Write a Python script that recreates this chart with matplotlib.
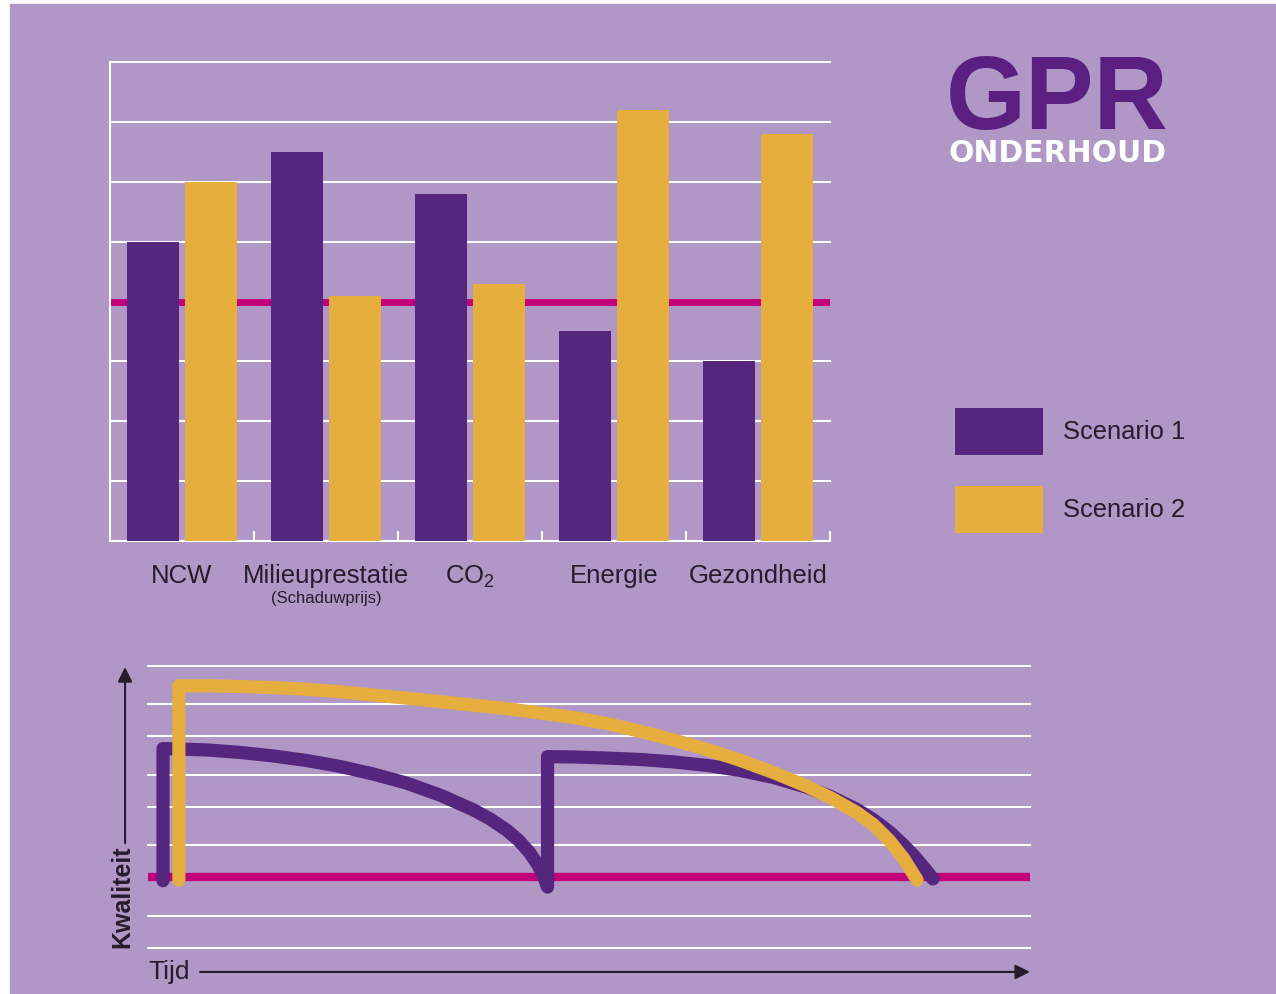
import numpy as np
import matplotlib.pyplot as plt
import matplotlib.transforms as mtransforms
from matplotlib.patches import Rectangle

plt.rcParams['font.family'] = ['Liberation Sans', 'DejaVu Sans']

# top chart data
categories = ["NCW", "Milieuprestatie", r"CO$_\mathregular{2}$", "Energie", "Gezondheid"]
scenario1 = [5.0, 6.5, 5.8, 3.5, 3.0]
scenario2 = [6.0, 4.1, 4.3, 7.2, 6.8]
top_grid = [1, 2, 3, 5, 6, 7, 8]
top_norm = 4

# bottom chart data (tijd vs kwaliteit)
s1_time = [1.7, 1.7, 6.7, 10.4, 14.2, 18.0, 21.8, 25.5, 29.3, 33.1, 36.9,
           38.8, 40.7, 42.0, 43.2, 44.2, 44.9, 45.3,
           45.3, 48.5, 52.0, 55.8, 59.6, 63.4, 67.1, 70.9, 74.7, 77.3, 80.4,
           82.2, 84.1, 85.6, 86.8, 88.1, 89.0]
s1_qual = [1.9, 5.65, 5.61, 5.54, 5.44, 5.31, 5.14, 4.93, 4.67, 4.33, 3.91,
           3.65, 3.33, 3.05, 2.72, 2.35, 2.0, 1.72,
           5.42, 5.41, 5.38, 5.34, 5.27, 5.17, 5.03, 4.83, 4.55, 4.30, 3.92,
           3.64, 3.28, 2.93, 2.62, 2.24, 1.95]
s2_time = [3.5, 3.5, 6.7, 10.4, 14.2, 18.0, 21.8, 25.5, 29.3, 33.1, 36.9,
           40.7, 44.4, 48.2, 52.0, 55.8, 59.6, 63.4, 67.1, 70.9, 74.7, 77.5,
           80.4, 82.3, 84.1, 85.7, 87.2]
s2_qual = [1.92, 7.43, 7.43, 7.41, 7.38, 7.33, 7.26, 7.17, 7.08, 6.98, 6.88,
           6.78, 6.66, 6.53, 6.36, 6.14, 5.89, 5.62, 5.32, 4.97, 4.58, 4.24,
           3.83, 3.48, 3.03, 2.52, 1.92]
bottom_grid = [0, 0.9, 2.9, 4, 4.9, 6, 6.9, 8]
bottom_norm = 2

BG = "#B097C5"
PURPLE = "#55267E"
YELLOW = "#E5AE3F"
MAGENTA = "#C3007A"
DARK = "#261C2C"

W, H = 1276, 994
fig = plt.figure(figsize=(W / 100, H / 100), dpi=100, facecolor="white")
fig.add_artist(Rectangle((10 / W, 0), 1 - 10 / W, 1 - 4 / H,
                         transform=fig.transFigure, color=BG, zorder=-10))

# ---- bar chart ----
ax = fig.add_axes([110 / W, 1 - 541 / H, 720 / W, 479 / H])
ax.set_facecolor("none")
x = np.arange(len(categories))
b1 = ax.bar(x - 0.2, scenario1, 0.36, color=PURPLE, zorder=3, label="Scenario 1")
b2 = ax.bar(x + 0.2, scenario2, 0.36, color=YELLOW, zorder=3, label="Scenario 2")
for g in top_grid:
    ax.axhline(g, color="white", lw=1.5, zorder=1, clip_on=False)
ax.axhline(top_norm, color=MAGENTA, lw=5, zorder=2)
ax.set_xlim(-0.5, 4.5)
ax.set_ylim(0, 8)
for s in ["top", "right"]:
    ax.spines[s].set_visible(False)
for s in ["left", "bottom"]:
    ax.spines[s].set_color("white")
    ax.spines[s].set_linewidth(1.5)
ax.set_yticks([])
ax.set_xticks(x, categories)
ax.set_xticks(list(x + 0.5), minor=True)
ax.tick_params(axis="x", which="major", length=0, pad=16.5, labelsize=18.5,
               labelcolor=DARK)
ax.tick_params(axis="x", which="minor", direction="in", length=7, width=1.5,
               color="white")
trans = mtransforms.blended_transform_factory(ax.transData, ax.transAxes)
ax.text(1, -0.12, "(Schaduwprijs)", transform=trans, ha="center", va="center",
        fontsize=12, color=DARK)

fig.legend(handles=[b1, b2], loc="upper left",
           bbox_to_anchor=(955 / W, 1 - 408 / H), frameon=False,
           fontsize=18.4, handlelength=3.45, handleheight=2.45,
           labelspacing=1.2, handletextpad=0.78, borderpad=0,
           borderaxespad=0, labelcolor=DARK)

# logo
fig.text(946 / W, 1 - 129 / H, "GPR", color="#5A1F80", fontsize=74,
         fontweight="bold", ha="left", va="baseline")
fig.text(948 / W, 1 - 162 / H, "ONDERHOUD", color="white", fontsize=21.5,
         fontweight="bold", family="DejaVu Sans", ha="left", va="baseline")

# ---- quality over time ----
ax2 = fig.add_axes([148 / W, 1 - 947.7 / H, 882 / W, 282 / H])
ax2.set_facecolor("none")
for g in bottom_grid:
    ax2.axhline(g, color="white", lw=1.5, zorder=1, clip_on=False)
ax2.axhline(bottom_norm, color=MAGENTA, lw=6, zorder=2)
ax2.plot(s1_time, s1_qual, color=PURPLE, lw=9.5, solid_capstyle="round",
         solid_joinstyle="round", zorder=3, clip_on=False)
ax2.plot(s2_time, s2_qual, color=YELLOW, lw=9.5, solid_capstyle="round",
         solid_joinstyle="round", zorder=4, clip_on=False)
ax2.set_xlim(0, 100)
ax2.set_ylim(0, 8)
for s in ax2.spines.values():
    s.set_visible(False)
ax2.set_xticks([])
ax2.set_yticks([])

arrow = dict(arrowstyle="-|>", color=DARK, lw=1.5, mutation_scale=22,
             shrinkA=0, shrinkB=0)
ax2.annotate("", xy=(-0.026, 0.995), xytext=(-0.026, 0.371),
             xycoords="axes fraction", arrowprops=arrow)
ax2.annotate("", xy=(1.0, -0.086), xytext=(0.059, -0.086),
             xycoords="axes fraction", arrowprops=arrow)
ax2.text(-0.029, 0.18, "Kwaliteit", transform=ax2.transAxes, rotation=90,
         ha="center", va="center", fontsize=18, fontweight="bold", color=DARK)
ax2.text(0.0, -0.086, "Tijd", transform=ax2.transAxes, ha="left",
         va="center", fontsize=19, color=DARK)

fig.savefig("out.png", dpi=100, facecolor=fig.get_facecolor())
